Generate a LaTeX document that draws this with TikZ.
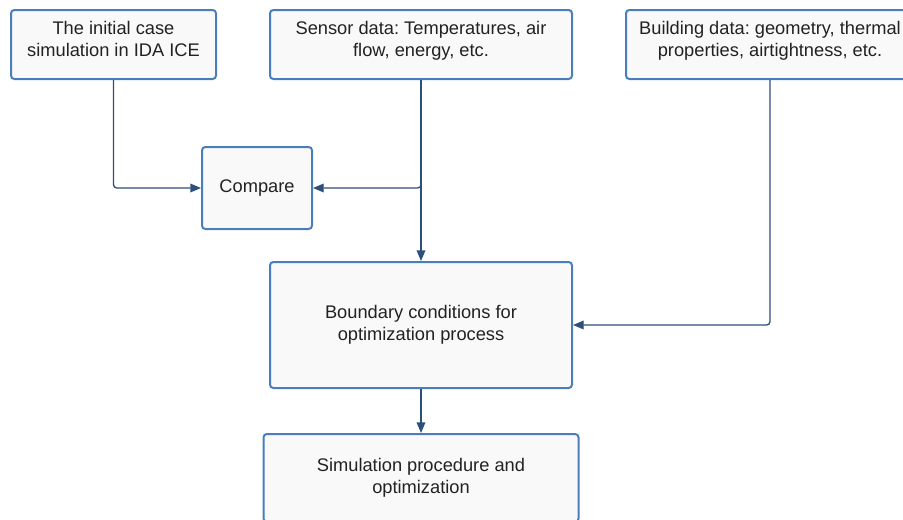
\documentclass[tikz,border=0pt]{standalone}
\usepackage{fontspec}
\setmainfont{Liberation Sans}
\frenchspacing
\usetikzlibrary{arrows.meta}
\definecolor{boxborder}{HTML}{4A7EBB}
\definecolor{boxfill}{HTML}{F9F9F9}
\definecolor{arrowcol}{HTML}{2C4F7C}
\definecolor{textcol}{HTML}{222222}
\tikzset{
  flowbox/.style={draw=boxborder, fill=boxfill, line width=1.5pt, rounded corners=2.5pt,
    align=center, text=textcol, inner sep=2pt,
    font=\fontsize{13.7pt}{16.5pt}\selectfont},
  topbox/.style={flowbox, minimum height=51.75pt, text depth=8pt},
  conn/.style={draw=arrowcol, line width=1pt, rounded corners=2.5pt,
    -{Triangle[length=8pt,width=6.5pt]}}
}
\begin{document}
\begin{tikzpicture}[x=0.75pt,y=-0.75pt]
\useasboundingbox (0,0) rectangle (903,519);
\clip (0,0) rectangle (903,519);
\node[topbox, minimum width=153.75pt] (init) at (113.5,44.5) {The initial case\\simulation in IDA ICE};
\node[topbox, minimum width=226.5pt] (sensor) at (421,44.5) {Sensor data: Temperatures, air\\flow, energy, etc.};
\node[topbox, minimum width=216pt] (building) at (770,44.5) {Building data: geometry, thermal\\properties, airtightness, etc.};
\node[flowbox, minimum width=82.5pt, minimum height=61.5pt] (compare) at (257,188) {Compare};
\node[flowbox, minimum width=226.5pt, minimum height=94.5pt] (boundary) at (421,325) {Boundary conditions for\\optimization process};
\node[flowbox, minimum width=236.25pt, minimum height=66pt] (sim) at (421,478) {Simulation procedure and\\optimization};
\draw[conn] (init.south) |- (compare.west);
\draw[conn] (sensor.south) |- (compare.east);
\draw[conn] (sensor.south) -- (boundary.north);
\draw[conn] (building.south) |- (boundary.east);
\draw[conn] (boundary.south) -- (sim.north);
\end{tikzpicture}
\end{document}
